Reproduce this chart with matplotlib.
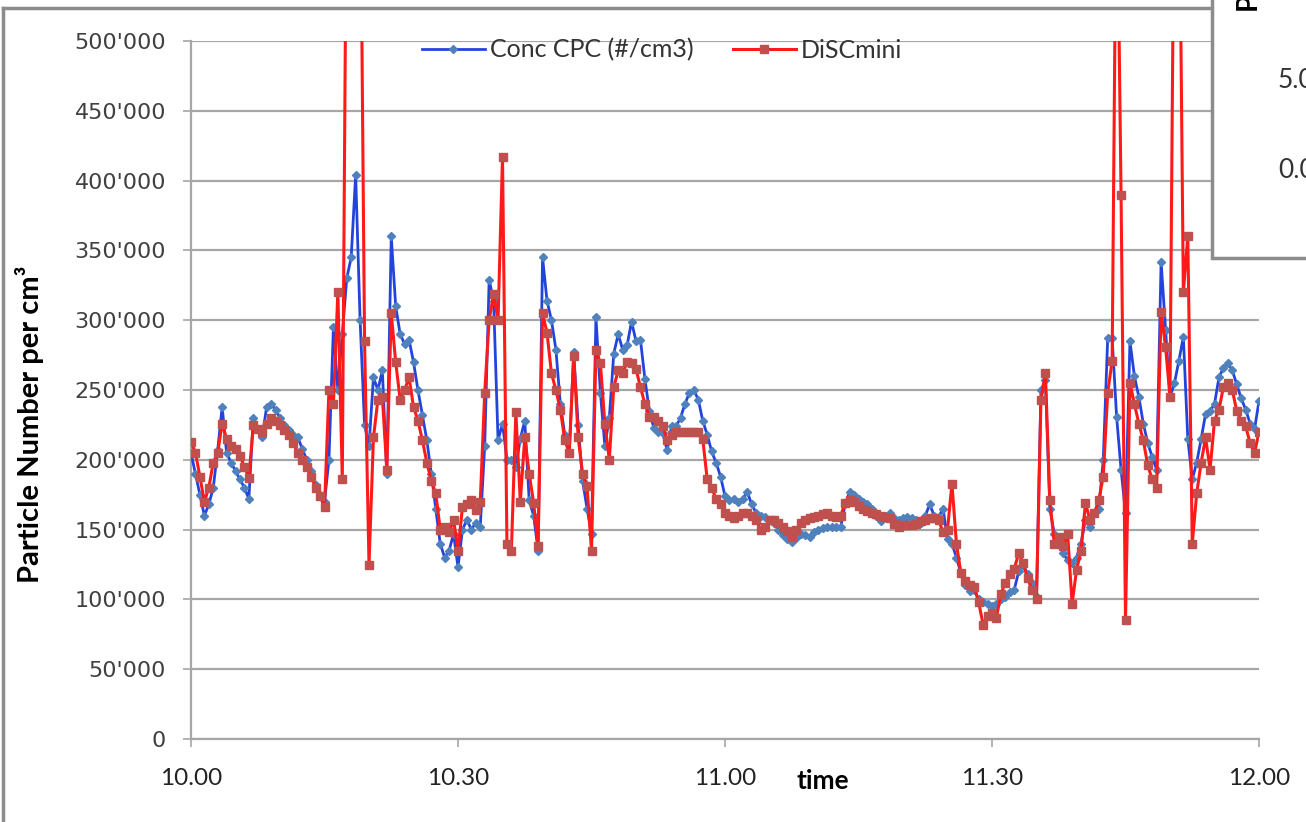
import matplotlib
matplotlib.use("Agg")
import matplotlib.pyplot as plt
from matplotlib.lines import Line2D
from matplotlib.patches import Rectangle
from matplotlib.ticker import FuncFormatter
import numpy as np

# particle counts in thousands per cm3, one reading every 30 s from 10:00 to 12:00
cpc = [
    205, 190, 175, 160, 168, 180, 207, 238, 205, 198,
    192, 186, 180, 172, 230, 222, 216, 238, 240, 236,
    230, 225, 221, 218, 216, 208, 200, 192, 182, 175,
    170, 200, 295, 250, 290, 330, 345, 404, 300, 225,
    210, 259, 250, 264, 190, 360, 310, 290, 283, 286,
    270, 250, 232, 214, 190, 165, 140, 130, 135, 147,
    123, 150, 157, 150, 155, 152, 210, 329, 314, 214,
    226, 200, 200, 195, 215, 228, 171, 160, 135, 345,
    314, 300, 279, 240, 218, 205, 277, 225, 185, 165,
    147, 302, 248, 210, 230, 276, 290, 279, 282, 299,
    285, 286, 258, 235, 223, 220, 219, 207, 224, 224,
    230, 240, 248, 250, 243, 228, 218, 206, 198, 188,
    174, 171, 172, 170, 172, 177, 168, 162, 160, 159,
    157, 155, 150, 146, 143, 141, 144, 147, 146, 145,
    148, 150, 151, 152, 152, 152, 152, 168, 177, 175,
    172, 170, 168, 165, 160, 156, 160, 162, 158, 157,
    158, 159, 158, 157, 155, 160, 168, 160, 159, 165,
    143, 140, 130, 119, 110, 106, 107, 100, 98, 97,
    95, 97, 100, 102, 105, 107, 120, 125, 118, 112,
    102, 250, 257, 165, 147, 140, 133, 128, 126, 130,
    140, 157, 152, 162, 165, 200, 287, 287, 231, 193,
    162, 285, 260, 245, 226, 212, 202, 193, 342, 293,
    245, 255, 271, 288, 215, 186, 198, 215, 233, 235,
    240, 259, 266, 269, 264, 254, 244, 236, 226, 222,
    242,
]

discmini = [
    213, 205, 188, 170, 180, 198, 205, 226, 215, 210,
    208, 203, 195, 187, 225, 222, 220, 226, 230, 228,
    225, 221, 218, 212, 205, 200, 195, 188, 180, 174,
    166, 250, 240, 320, 186, 650, 650, 650, 650, 285,
    125, 216, 243, 245, 193, 305, 270, 243, 250, 259,
    238, 228, 214, 198, 185, 176, 150, 152, 148, 157,
    135, 166, 168, 171, 164, 170, 248, 300, 319, 300,
    417, 140, 135, 234, 170, 216, 190, 169, 138, 305,
    291, 262, 250, 236, 214, 205, 274, 216, 190, 181,
    135, 279, 269, 226, 200, 252, 264, 262, 270, 269,
    265, 252, 240, 231, 231, 228, 224, 214, 218, 220,
    220, 220, 220, 220, 220, 215, 186, 180, 172, 168,
    162, 160, 158, 160, 162, 162, 160, 157, 150, 152,
    157, 157, 155, 152, 149, 145, 150, 155, 157, 158,
    159, 160, 161, 162, 160, 159, 160, 169, 171, 170,
    167, 165, 163, 162, 161, 160, 159, 158, 154, 152,
    153, 153, 153, 154, 156, 157, 158, 158, 157, 148,
    150, 183, 140, 119, 113, 110, 109, 98, 82, 88,
    90, 87, 104, 112, 118, 122, 133, 126, 115, 107,
    100, 243, 262, 171, 140, 145, 138, 147, 97, 121,
    135, 169, 157, 162, 171, 188, 248, 271, 650, 390,
    85, 255, 240, 226, 214, 196, 186, 180, 306, 281,
    245, 650, 650, 320, 360, 140, 176, 198, 216, 193,
    228, 236, 252, 255, 250, 235, 228, 224, 212, 205,
    220,
]

minutes = np.arange(len(cpc)) * 0.5
tick_minutes = [0, 30, 60, 90, 120]
tick_labels = ["10.00", "10.30", "11.00", "11.30", "12.00"]

plt.rcParams['font.family'] = ['Lato', 'DejaVu Sans']

W, H = 1306, 822
fig = plt.figure(figsize=(W / 100, H / 100), dpi=100)
ax = fig.add_axes([191 / W, 83 / H, 1068 / W, 698 / H])

ax.plot(minutes, np.array(cpc) * 1000, color="#2244dd", lw=2,
        marker="D", ms=4.5, mfc="#4f81bd", mec="#4f81bd",
        label="Conc CPC (#/cm3)", zorder=3)
ax.plot(minutes, np.array(discmini) * 1000, color="#ff1a1a", lw=2.2,
        marker="s", ms=6, mfc="#c0504d", mec="#c0504d",
        label="DiSCmini", zorder=4)

ax.set_xlim(0, 120)
ax.set_ylim(0, 500000)
ax.set_yticks(np.arange(0, 500001, 50000))
ax.yaxis.set_major_formatter(FuncFormatter(lambda v, p: f"{v:,.0f}".replace(",", "'")))
ax.set_xticks(tick_minutes)
ax.set_xticklabels(tick_labels)

ax.grid(axis="y", color="#a6a6a6", lw=1.6)
ax.set_axisbelow(True)
for side in ["top", "right"]:
    ax.spines[side].set_visible(False)
for side in ["left", "bottom"]:
    ax.spines[side].set_color("#a6a6a6")
    ax.spines[side].set_linewidth(1.6)

ax.tick_params(axis="y", length=6, width=1.2, color="#a6a6a6", pad=12,
               labelsize=16, labelcolor="#404040")
ax.tick_params(axis="x", length=6, width=1.2, color="#a6a6a6", pad=15,
               labelsize=17.5, labelcolor="#222222")
for lab in ax.get_yticklabels():
    lab.set_family("DejaVu Sans")

ax.set_ylabel("Particle Number per cm³", fontsize=21, fontweight="bold")
ax.yaxis.set_label_coords((44 - 191) / 1068, (739 - 424) / 698)
ax.set_xlabel("time", fontsize=19, fontweight="bold")
ax.xaxis.set_label_coords((823 - 191) / 1068, -0.043)

fig.legend(loc="center", bbox_to_anchor=(662 / W, 1 - 50 / H), ncol=2,
           frameon=False, fontsize=18, handlelength=2.5, handletextpad=0.2,
           columnspacing=1.6, labelcolor="#333333")

# outer chart border
fig.add_artist(Line2D([3 / W, 3 / W], [0, 1 - 8 / H], color="#8c8c8c", lw=2.5,
                      transform=fig.transFigure))
fig.add_artist(Line2D([3 / W, 1], [1 - 8 / H, 1 - 8 / H], color="#8c8c8c", lw=2.5,
                      transform=fig.transFigure))

# neighbouring chart overlapping the top right corner
fig.add_artist(Rectangle((1212 / W, 1 - 258 / H), 0.2, 0.4, transform=fig.transFigure,
                         facecolor="white", edgecolor="#8c8c8c", lw=2.5, zorder=10))
fig.text(1278 / W, 1 - 80 / H, "5.00", fontsize=19, color="#333333",
         va="center", ha="left", zorder=11)
fig.text(1278 / W, 1 - 170 / H, "0.00", fontsize=19, color="#333333",
         va="center", ha="left", zorder=11)
fig.text(1248 / W, 1 - 10 / H, "PM", fontsize=20, fontweight="bold", rotation=90,
         va="bottom", ha="center", zorder=11)

fig.savefig("out.png", dpi=100)
